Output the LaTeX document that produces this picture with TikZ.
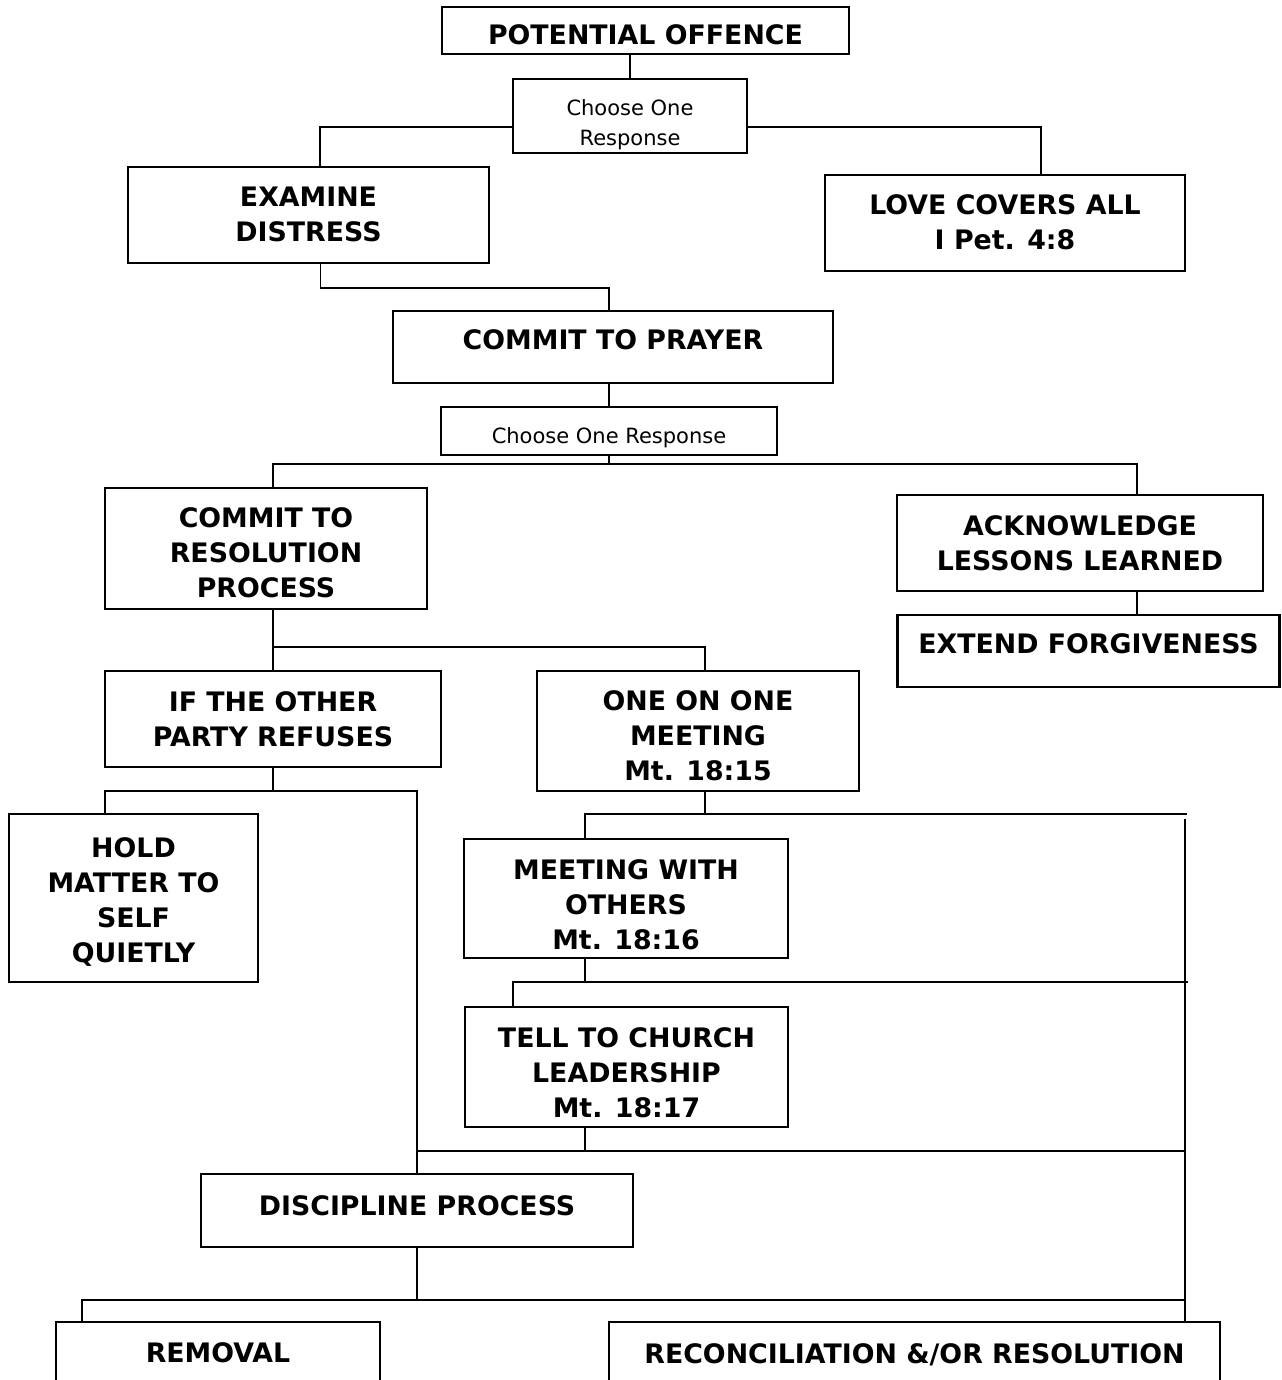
\documentclass[tikz,border=0pt]{standalone}
\usepackage{fontspec}
\setmainfont{DejaVu Sans}
% texto bajado dentro de la caja, sin cambiar su tamano
\newcommand\txt[2][-1.25pt]{\raisebox{#1}[\height][\depth]{\begin{tabular}{@{}c@{}}#2\end{tabular}}}
\begin{document}
\begin{tikzpicture}[x=0.5pt,y=-0.5pt,
    caja/.style={draw,line width=1.1pt,inner sep=0pt,
        font=\bfseries\fontsize{13.4}{17.5}\selectfont},
    eleccion/.style={caja,font=\fontsize{10.5}{15}\selectfont},
    linea/.style={line width=0.9pt}]
        %marco
        \useasboundingbox (0,0) rectangle (1281,1380);
        \clip (0,0) rectangle (1281,1380);

        % cajas parte alta
        \node[caja,minimum width=203.5pt,minimum height=23.5pt] (offence) at (645.5,30.5) {\txt[-3.75pt]{POTENTIAL OFFENCE}};
        \node[eleccion,minimum width=117pt,minimum height=37pt] (choose1) at (630,116) {\txt[-4.3pt]{Choose One\\Response}};
        \node[caja,minimum width=180.5pt,minimum height=48pt] (examine) at (308.5,215) {\txt{EXAMINE\\DISTRESS}};
        \node[caja,minimum width=180pt,minimum height=48pt] (love) at (1005,223) {\txt{LOVE COVERS ALL\\I Pet. 4:8}};
        \node[caja,minimum width=220pt,minimum height=36pt] (prayer) at (613,347) {\txt[2.25pt]{COMMIT TO PRAYER}};
        \node[eleccion,minimum width=168pt,minimum height=24pt] (choose2) at (609,431) {\txt[-3.3pt]{Choose One Response}};
        \node[caja,minimum width=161pt,minimum height=60.5pt] (resolution) at (266,548.5) {\txt[-3.25pt]{COMMIT TO\\RESOLUTION\\PROCESS}};
        \node[caja,minimum width=183pt,minimum height=48pt] (ack) at (1080,543) {\txt{ACKNOWLEDGE\\LESSONS LEARNED}};
        \node[caja,minimum width=191pt,minimum height=36pt] (extend) at (1088.5,651) {\txt[2.25pt]{EXTEND FORGIVENESS}};

        % cajas proceso
        \node[caja,minimum width=168pt,minimum height=48pt] (ifother) at (273,719) {\txt{IF THE OTHER\\PARTY REFUSES}};
        \node[caja,minimum width=161pt,minimum height=60pt] (oneonone) at (698,731) {\txt[-3.75pt]{ONE ON ONE\\MEETING\\Mt. 18:15}};
        \node[caja,minimum width=124.5pt,minimum height=84pt] (hold) at (133.5,898) {\txt[-2.25pt]{HOLD\\MATTER TO\\SELF\\QUIETLY}};
        \node[caja,minimum width=162pt,minimum height=59.5pt] (meetwith) at (626,898.5) {\txt[-4.25pt]{MEETING WITH\\OTHERS\\Mt. 18:16}};
        \node[caja,minimum width=161.5pt,minimum height=60pt] (tell) at (626.5,1067) {\txt[-4.25pt]{TELL TO CHURCH\\LEADERSHIP\\Mt. 18:17}};
        \node[caja,minimum width=216pt,minimum height=36.5pt] (discipline) at (417,1210.5) {\txt[1.25pt]{DISCIPLINE PROCESS}};
        \node[caja,minimum width=162pt,minimum height=31pt] (removal) at (218,1353) {\txt{REMOVAL}};
        \node[caja,minimum width=305.5pt,minimum height=31pt] (rec) at (914.5,1353) {\txt[-1.75pt]{RECONCILIATION \&/OR RESOLUTION}};

        %puntos de union
        \coordinate (split2) at (609,464);
        \coordinate (split4) at (273,791);
        \coordinate (split5) at (705,814);
        \coordinate (end5) at (1187,814);
        \coordinate (railtop) at (1185,819);
        \coordinate (split6) at (585,982);
        \coordinate (end6) at (1188,982);
        \coordinate (split7) at (585,1151);
        \coordinate (split8) at (417,1300);

        % lineas
        \draw[linea] (choose1.north) -- (choose1.north |- offence.south);
        \draw[linea] ([yshift=-5.5pt]choose1.west) -| ([xshift=5.75pt]examine.north);
        \draw[linea] ([yshift=-5.5pt]choose1.east) -| ([xshift=18pt]love.north);
        \draw[linea] ([xshift=6pt]examine.south) -- ++(0,24) -| ([xshift=-2pt]prayer.north);
        \draw[linea] (choose2.north) -- (choose2.north |- prayer.south);
        \draw[linea] (choose2.south) -- (split2);
        \draw[linea] ([xshift=3.5pt]resolution.north) |- (split2) -| ([xshift=28.5pt]ack.north);
        \draw[linea] ([xshift=28.5pt]ack.south) -- ([xshift=28.5pt]ack.south |- extend.north);
        \draw[linea] ([xshift=3.5pt]resolution.south) -- (ifother.north);
        \draw[linea] (ifother.north |- 0,647) -| ([xshift=3.5pt]oneonone.north);
        \draw[linea] (ifother.south) -- (split4);
        \draw[linea] ([xshift=-14.25pt]hold.north) |- (split4) -| (discipline.north);
        \draw[linea] ([xshift=3.5pt]oneonone.south) -- (split5);
        \draw[linea] ([xshift=-20.5pt]meetwith.north) |- (end5);
        \draw[linea] (railtop) -- ([xshift=135.25pt]rec.north);
        \draw[linea] ([xshift=-20.5pt]meetwith.south) -- (split6);
        \draw[linea] ([xshift=-56.75pt]tell.north) |- (end6);
        \draw[linea] ([xshift=-20.75pt]tell.south) -- (split7);
        \draw[linea] (split7 -| discipline.north) -- (split7 -| railtop);
        \draw[linea] (discipline.south) -- (split8);
        \draw[linea] ([xshift=-68pt]removal.north) |- (split8 -| railtop);
    \end{tikzpicture}
\end{document}
